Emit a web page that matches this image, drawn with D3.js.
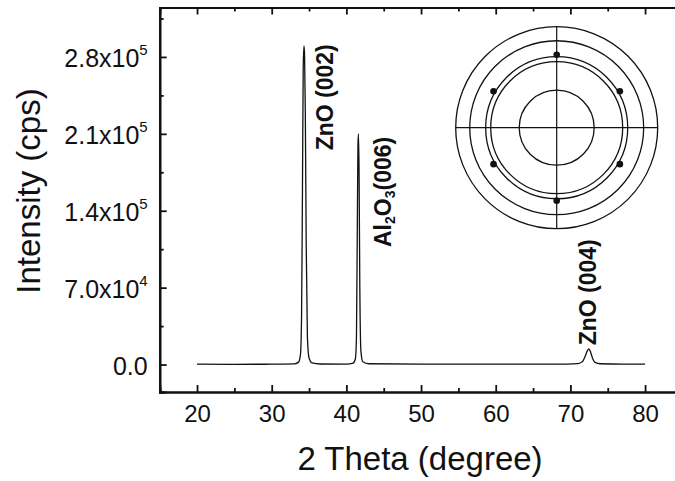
<!DOCTYPE html>
<html><head><meta charset="utf-8">
<script src="https://cdn.jsdelivr.net/npm/d3@7"></script>
<style>
body{margin:0;background:#fff}
svg{display:block;background:#fff}
text{font-family:"Liberation Sans",Arial,Helvetica,sans-serif;fill:#111}
</style>
</head><body>
<svg id="c" width="675" height="481"></svg>
<script>
// ---- data ----
const twoTheta  = [20, 25, 30, 33.0, 33.6, 33.85, 34.0, 34.12, 34.22, 34.32, 34.4, 34.5, 34.62, 34.78, 35.0, 35.4, 36.5,
                   40.0, 40.9, 41.2, 41.35, 41.45, 41.55, 41.62, 41.7, 41.8, 41.95, 42.2, 43.0,
                   50, 60, 68, 71.0, 71.6, 71.95, 72.2, 72.45, 72.7, 72.95, 73.3, 74.0, 77, 80];
const intensity = [300, 200, 300, 600, 2200, 9000, 45000, 160000, 270000, 290000, 282000, 230000, 110000, 25000, 6000, 1500, 500,
                   400, 1200, 5000, 25000, 110000, 200000, 210000, 175000, 70000, 12000, 2500, 700,
                   300, 300, 400, 900, 2500, 7000, 11500, 14300, 11500, 6000, 2000, 700, 400, 400];

const xTicks = [20, 30, 40, 50, 60, 70, 80];
const xMinorTicks = [15, 25, 35, 45, 55, 65, 75, 85];
const yTicks = [0, 7e4, 1.4e5, 2.1e5, 2.8e5];
const yTickMantissa = ["0.0", "7.0x10", "1.4x10", "2.1x10", "2.8x10"];
const yTickExponent = ["", "4", "5", "5", "5"];
const yMinorTicks = [3.5e4, 1.05e5, 1.75e5, 2.45e5, 3.15e5];

const peakLabels = ["ZnO (002)", "Al2O3(006)", "ZnO (004)"];
const peakLabelX = [38.2, 46.0, 73.4];
const peakLabelY = [195000, 107000, 17500];

const poleRingPsi = [33.4, 58.8, 63.3, 77.5, 90];
const poleSpotPhi = [30, 90, 150, 210, 270, 330];
const poleSpotPsi = [65, 65, 65, 65, 65, 65];

const xLabel = "2 Theta (degree)";
const yLabel = "Intensity (cps)";

// ---- layout ----
const svg = d3.select("#c");
const x = d3.scaleLinear().domain([15, 85]).range([159.7, 682.4]);
const y = d3.scaleLinear().domain([-2.5e4, 3.25e5]).range([392, 7.5]);
const axisW = 2.2;

function styleAxis(g){
  g.select(".domain").attr("stroke", "#111").attr("stroke-width", axisW);
  g.selectAll(".tick line").attr("stroke", "#111").attr("stroke-width", 1.8);
}

// curve
const line = d3.line().x((d,i)=>x(twoTheta[i])).y((d,i)=>y(intensity[i])).curve(d3.curveMonotoneX);
svg.append("path").datum(intensity).attr("d", line)
  .attr("fill","none").attr("stroke","#111").attr("stroke-width",1.3);

// bottom axis
const gB = svg.append("g").attr("transform",`translate(0,${y.range()[0]})`)
  .call(d3.axisBottom(x).tickValues(xTicks).tickSize(-7).tickPadding(13).tickFormat(d3.format("d")));
styleAxis(gB);
gB.selectAll(".tick text").attr("font-size", 24).attr("fill","#111");
const gBm = svg.append("g").attr("transform",`translate(0,${y.range()[0]})`)
  .call(d3.axisBottom(x).tickValues(xMinorTicks).tickSize(-4).tickFormat(""));
styleAxis(gBm);

// top axis
const gT = svg.append("g").attr("transform",`translate(0,${y.range()[1]})`)
  .call(d3.axisTop(x).tickValues(xTicks).tickSize(-7).tickFormat(""));
styleAxis(gT);
const gTm = svg.append("g").attr("transform",`translate(0,${y.range()[1]})`)
  .call(d3.axisTop(x).tickValues(xMinorTicks).tickSize(-4).tickFormat(""));
styleAxis(gTm);

// left axis
const gL = svg.append("g").attr("transform",`translate(${x.range()[0]},0)`)
  .call(d3.axisLeft(y).tickValues(yTicks).tickSize(-7).tickPadding(12));
styleAxis(gL);
gL.selectAll(".tick text").each(function(d,i){
  const t = d3.select(this).text(null).attr("font-size", 25).attr("dy","0.4em").attr("fill","#111");
  t.append("tspan").text(yTickMantissa[i]);
  if (yTickExponent[i]) t.append("tspan").attr("font-size", 15).attr("dy", -12).text(yTickExponent[i]);
});
const gLm = svg.append("g").attr("transform",`translate(${x.range()[0]},0)`)
  .call(d3.axisLeft(y).tickValues(yMinorTicks).tickSize(-4).tickFormat(""));
styleAxis(gLm);

// right axis
const gR = svg.append("g").attr("transform",`translate(${x.range()[1]},0)`)
  .call(d3.axisRight(y).tickValues(yTicks).tickSize(-7).tickFormat(""));
styleAxis(gR);
const gRm = svg.append("g").attr("transform",`translate(${x.range()[1]},0)`)
  .call(d3.axisRight(y).tickValues(yMinorTicks).tickSize(-4).tickFormat(""));
styleAxis(gRm);

// axis titles
svg.append("text").attr("x", 420).attr("y", 470).attr("text-anchor","middle")
  .attr("font-size", 33).text(xLabel);
svg.append("text").attr("transform","translate(40,191) rotate(-90)").attr("text-anchor","middle")
  .attr("font-size", 33).text(yLabel);

// peak labels
peakLabels.forEach((lab, i) => {
  const t = svg.append("text")
    .attr("transform", `translate(${x(peakLabelX[i])},${y(peakLabelY[i])}) rotate(-90)`)
    .attr("font-size", 23).attr("font-weight", "bold");
  const m = lab.match(/^Al2O3(.*)$/);
  if (m) {
    t.append("tspan").text("Al");
    t.append("tspan").attr("font-size", 14).attr("dy", 4).text("2");
    t.append("tspan").attr("dy", -4).text("O");
    t.append("tspan").attr("font-size", 14).attr("dy", 4).text("3");
    t.append("tspan").attr("dy", -4).text(m[1]);
  } else {
    t.text(lab);
  }
});

// inset pole figure
const psi = d3.scaleLinear().domain([0, 90]).range([0, 101]);
const inset = svg.append("g").attr("transform","translate(556.7,127.7)");
inset.selectAll("circle.ring").data(poleRingPsi).join("circle").attr("class","ring")
  .attr("r", d => psi(d)).attr("fill","none").attr("stroke","#111").attr("stroke-width",1.3);
inset.append("line").attr("x1", -psi(90)).attr("x2", psi(90)).attr("y1",0).attr("y2",0)
  .attr("stroke","#111").attr("stroke-width",1.2);
inset.append("line").attr("y1", -psi(90)).attr("y2", psi(90)).attr("x1",0).attr("x2",0)
  .attr("stroke","#111").attr("stroke-width",1.2);
inset.selectAll("circle.spot").data(poleSpotPhi).join("circle").attr("class","spot")
  .attr("cx", (d,i) => psi(poleSpotPsi[i]) * Math.cos(d * Math.PI / 180))
  .attr("cy", (d,i) => -psi(poleSpotPsi[i]) * Math.sin(d * Math.PI / 180))
  .attr("r", 3.3).attr("fill","#111");
</script>
</body></html>
